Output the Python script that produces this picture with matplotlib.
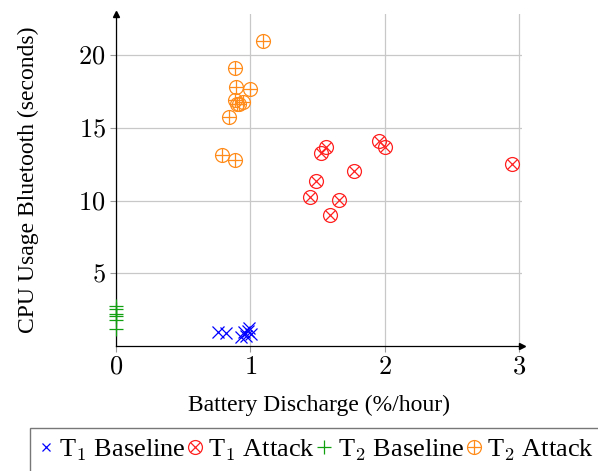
import matplotlib
matplotlib.use('Agg')
import matplotlib.pyplot as plt
from matplotlib.lines import Line2D

plt.rcParams['font.family'] = ['Liberation Serif', 'DejaVu Serif']
plt.rcParams['mathtext.fontset'] = 'cm'

# T1 Baseline (blue x)
t1_base_x = [0.755, 0.82, 0.953, 0.99, 0.97, 0.933, 1.007, 0.983]
t1_base_y = [0.98, 0.91, 0.94, 1.28, 0.71, 0.60, 0.82, 1.05]

# T1 Attack (red circle-x)
t1_att_x = [1.955, 2.002, 1.564, 1.527, 1.77, 2.945, 1.485, 1.445, 1.656, 1.589]
t1_att_y = [14.06, 13.65, 13.65, 13.26, 12.05, 12.51, 11.32, 10.25, 10.02, 8.99]

# T2 Baseline (green +)
t2_base_x = [0, 0, 0, 0, 0, 0]
t2_base_y = [2.76, 2.53, 2.19, 2.08, 1.78, 1.16]

# T2 Attack (orange circle-plus)
t2_att_x = [1.094, 0.884, 0.891, 0.995, 0.884, 0.945, 0.916, 0.898, 0.841, 0.785, 0.884]
t2_att_y = [20.96, 19.09, 17.83, 17.65, 16.9, 16.8, 16.64, 16.6, 15.77, 13.15, 12.8]

x_ticks = [0, 1, 2, 3]
y_ticks = [5, 10, 15, 20]

blue = '#0000ff'
red = '#ff2020'
green = '#10a010'
orange = '#ff8c1a'

fig = plt.figure(figsize=(5.98, 4.71), dpi=100)
ax = fig.add_axes([0.194, 0.265, 0.679, 0.705])

ms = 10
mew = 0.9
ax.plot(t1_base_x, t1_base_y, 'x', color=blue, ms=9, mew=mew, ls='none', clip_on=False, zorder=3)
ax.plot(t1_att_x, t1_att_y, 'o', mfc='none', mec=red, ms=ms, mew=mew, ls='none', clip_on=False, zorder=3)
ax.plot(t1_att_x, t1_att_y, 'x', color=red, ms=ms * 0.7, mew=mew, ls='none', clip_on=False, zorder=3)
ax.plot(t2_base_x, t2_base_y, '+', color=green, ms=10, mew=mew, ls='none', clip_on=False, zorder=3)
ax.plot(t2_att_x, t2_att_y, 'o', mfc='none', mec=orange, ms=ms, mew=mew, ls='none', clip_on=False, zorder=3)
ax.plot(t2_att_x, t2_att_y, '+', color=orange, ms=ms, mew=mew, ls='none', clip_on=False, zorder=3)

ax.set_xlim(0, 3.02)
ax.set_ylim(0, 22.8)
ax.set_xticks(x_ticks)
ax.set_yticks(y_ticks)
ax.set_xticklabels(['$%d$' % v for v in x_ticks])
ax.set_yticklabels(['$%d$' % v for v in y_ticks])
ax.tick_params(labelsize=19, length=4, color='#999999', width=0.8)
ax.grid(True, color='#c8c8c8', lw=0.9)
ax.set_axisbelow(True)

for s in ['top', 'right']:
    ax.spines[s].set_visible(False)
for s in ['left', 'bottom']:
    ax.spines[s].set_linewidth(0.9)
# arrow tips on axis ends
ax.plot(1, 0, '>k', ms=4, transform=ax.transAxes, clip_on=False)
ax.plot(0, 1, '^k', ms=4, transform=ax.transAxes, clip_on=False)

ax.set_xlabel('Battery Discharge (%/hour)', fontsize=17, labelpad=12)
ax.set_ylabel('CPU Usage Bluetooth (seconds)', fontsize=17, labelpad=28)

h1 = Line2D([], [], marker='x', color=blue, ms=6, mew=mew, ls='none')
h2 = (Line2D([], [], marker='o', mfc='none', mec=red, ms=10, mew=mew, ls='none'),
      Line2D([], [], marker='x', color=red, ms=7, mew=mew, ls='none'))
h3 = Line2D([], [], marker='+', color=green, ms=10, mew=mew, ls='none')
h4 = (Line2D([], [], marker='o', mfc='none', mec=orange, ms=10, mew=mew, ls='none'),
      Line2D([], [], marker='+', color=orange, ms=10, mew=mew, ls='none'))
labels = ['T$_1$ Baseline', 'T$_1$ Attack', 'T$_2$ Baseline', 'T$_2$ Attack']
leg = fig.legend([h1, h2, h3, h4], labels, loc='upper left',
                 bbox_to_anchor=(30 / 598, 1 - 428 / 471), ncol=4,
                 fontsize=19, frameon=True, fancybox=False, edgecolor='#555555',
                 handlelength=0.5, handletextpad=0.25, columnspacing=0.1,
                 borderpad=0.35, borderaxespad=0)
leg.get_frame().set_linewidth(1.0)

fig.savefig('out.png', dpi=100)
